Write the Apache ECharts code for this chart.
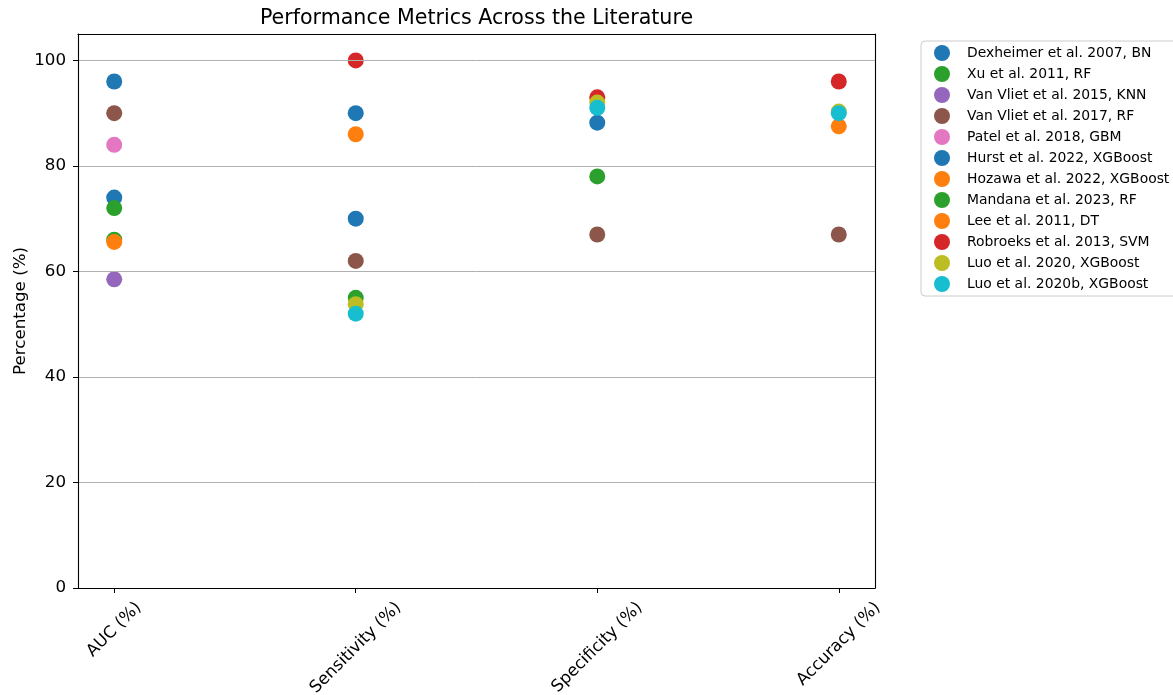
<!DOCTYPE html>
<html>
<head>
<meta charset="utf-8">
<script src="https://cdn.jsdelivr.net/npm/echarts@6/dist/echarts.min.js"></script>
<style>
  html, body { margin: 0; padding: 0; background: #ffffff; }
  #chart { width: 1173px; height: 695px; }
</style>
</head>
<body>
<div id="chart"></div>
<script>
// Metrics shown along the x axis
const metrics = ['AUC (%)', 'Sensitivity (%)', 'Specificity (%)', 'Accuracy (%)'];
const metricTicks = [0, 1, 2, 3];
const yTicks = [0, 20, 40, 60, 80, 100];

// Studies (legend order) and their marker colours
const studies = [
  'Dexheimer et al. 2007, BN',
  'Xu et al. 2011, RF',
  'Van Vliet et al. 2015, KNN',
  'Van Vliet et al. 2017, RF',
  'Patel et al. 2018, GBM',
  'Hurst et al. 2022, XGBoost',
  'Hozawa et al. 2022, XGBoost',
  'Mandana et al. 2023, RF',
  'Lee et al. 2011, DT',
  'Robroeks et al. 2013, SVM',
  'Luo et al. 2020, XGBoost',
  'Luo et al. 2020b, XGBoost'
];
const studyColors = [
  '#1f77b4', '#2ca02c', '#9467bd', '#8c564b', '#e377c2', '#1f77b4',
  '#ff7f0e', '#2ca02c', '#ff7f0e', '#d62728', '#bcbd22', '#17becf'
];

// Reported values per study: [AUC, Sensitivity, Specificity, Accuracy], null = not reported
const dexheimer2007 = [74, 70, null, null];
const xu2011 = [66, 55, null, null];
const vanVliet2015 = [58.5, null, null, null];
const vanVliet2017 = [90, 62, 67, 67];
const patel2018 = [84, null, null, null];
const hurst2022 = [96, 90, 88.2, null];
const hozawa2022 = [65.6, null, null, null];
const mandana2023 = [72, null, 78, null];
const lee2011 = [null, 86, null, 87.5];
const robroeks2013 = [null, 100, 93, 96];
const luo2020 = [null, 53.8, 92, 90.3];
const luo2020b = [null, 52, 91, 90];

const studyValues = [
  dexheimer2007, xu2011, vanVliet2015, vanVliet2017, patel2018, hurst2022,
  hozawa2022, mandana2023, lee2011, robroeks2013, luo2020, luo2020b
];

const FONT = 'DejaVu Sans';
const TICK_SIZE = 16.7;

// Rotated tick labels are centred under their tick: pad each label by half
// its own width so the rotated box hangs below the tick mark.
const measureCtx = document.createElement('canvas').getContext('2d');
measureCtx.font = TICK_SIZE + 'px "' + FONT + '"';
const metricRich = {};
metrics.forEach(function (m, i) {
  const w = measureCtx.measureText(m).width;
  metricRich['m' + i] = {
    fontFamily: FONT,
    fontSize: TICK_SIZE,
    color: '#000000',
    padding: [w / 2, w / 2, 0, 0]
  };
});

const series = studies.map(function (name, s) {
  const data = [];
  studyValues[s].forEach(function (v, i) {
    if (v !== null) data.push([i, v]);
  });
  return {
    type: 'scatter',
    name: name,
    data: data,
    symbol: 'circle',
    symbolSize: 16,
    itemStyle: { color: studyColors[s], opacity: 1 },
    emphasis: { disabled: true }
  };
});

const chart = echarts.init(document.getElementById('chart'), null, { renderer: 'canvas' });

chart.setOption({
  animation: false,
  backgroundColor: '#ffffff',
  textStyle: { fontFamily: FONT },
  title: {
    text: 'Performance Metrics Across the Literature',
    left: 476.5,
    top: 8,
    textAlign: 'center',
    padding: 0,
    textStyle: { fontFamily: FONT, fontSize: 20.6, fontWeight: 'normal', color: '#000000' }
  },
  legend: {
    orient: 'vertical',
    left: 921,
    top: 41,
    padding: [4, 8, 4, 13],
    itemWidth: 16,
    itemHeight: 16,
    itemGap: 5,
    icon: 'circle',
    borderColor: '#cccccc',
    borderWidth: 1,
    borderRadius: 4,
    backgroundColor: 'rgba(255,255,255,0.8)',
    data: studies,
    formatter: function (name) { return '{n|' + name + '}'; },
    textStyle: {
      fontFamily: FONT,
      fontSize: 13.9,
      color: '#000000',
      rich: { n: { fontFamily: FONT, fontSize: 13.9, color: '#000000', padding: [0, 0, 0, 12] } }
    }
  },
  grid: {
    left: 78, top: 34, width: 797, height: 554,
    containLabel: false,
    outerBoundsMode: 'none'
  },
  xAxis: [
    {
      type: 'value',
      position: 'bottom',
      min: -0.15,
      max: 3.15,
      z: 4,
      axisLine: { show: true, onZero: false, lineStyle: { color: '#000000', width: 1.1 } },
      axisTick: { show: true, customValues: metricTicks, length: 5, lineStyle: { color: '#000000', width: 1 } },
      axisLabel: {
        show: true,
        customValues: metricTicks,
        rotate: 45,
        align: 'center',
        verticalAlign: 'middle',
        margin: 17,
        formatter: function (v) {
          const i = Math.round(v);
          return '{m' + i + '|' + metrics[i] + '}';
        },
        rich: metricRich
      },
      splitLine: { show: false }
    },
    {
      type: 'value',
      position: 'top',
      min: -0.15,
      max: 3.15,
      z: 4,
      axisLine: { show: true, onZero: false, lineStyle: { color: '#000000', width: 1.1 } },
      axisTick: { show: false },
      axisLabel: { show: false },
      splitLine: { show: false }
    }
  ],
  yAxis: [
    {
      type: 'value',
      position: 'left',
      min: 0,
      max: 105,
      z: 3,
      name: 'Percentage (%)',
      nameLocation: 'middle',
      nameGap: 49,
      nameMoveOverlap: false,
      nameTextStyle: { fontFamily: FONT, fontSize: TICK_SIZE, color: '#000000' },
      axisLine: { show: true, onZero: false, lineStyle: { color: '#000000', width: 1.1 } },
      axisTick: { show: true, customValues: yTicks, length: 5, lineStyle: { color: '#000000', width: 1 } },
      axisLabel: {
        show: true,
        customValues: yTicks,
        margin: 12,
        fontFamily: FONT,
        fontSize: TICK_SIZE,
        color: '#000000'
      },
      splitLine: { show: true, lineStyle: { color: '#b0b0b0', width: 1 } }
    },
    {
      type: 'value',
      position: 'right',
      min: 0,
      max: 105,
      z: 4,
      axisLine: { show: true, onZero: false, lineStyle: { color: '#000000', width: 1.1 } },
      axisTick: { show: false },
      axisLabel: { show: false },
      splitLine: { show: false }
    }
  ],
  series: series
});
</script>
</body>
</html>
